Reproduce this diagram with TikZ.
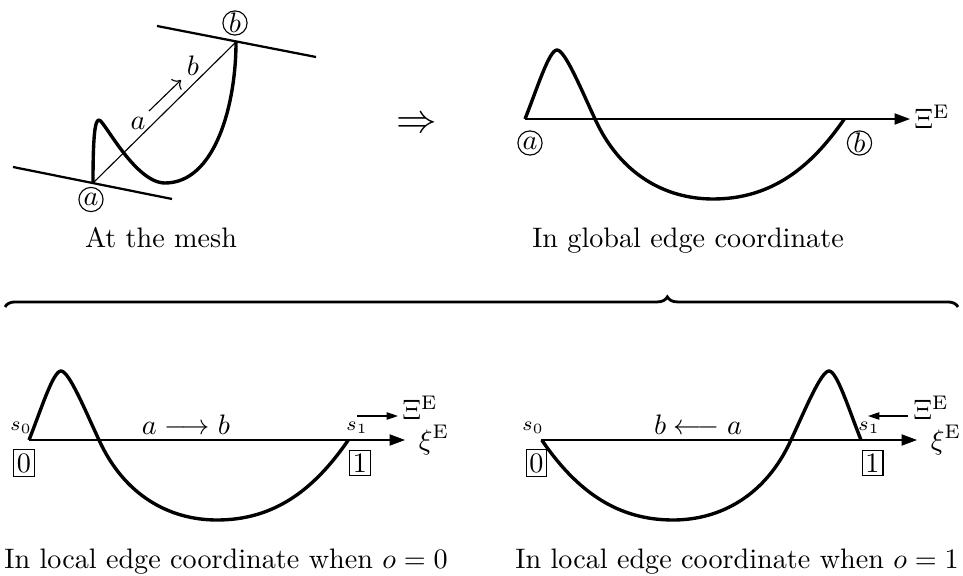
\documentclass[tikz,border=0pt]{standalone}
\usepackage{amsmath,amssymb}
\usepackage{tikz}
\usetikzlibrary{arrows.meta,positioning,decorations.pathreplacing}

\newcommand{\edgewave}{(0,0) .. controls (12,30) and (24,69) .. (32,69) .. controls (40,69) and (56,30) .. (70,0) .. controls (95,-55) and (140,-80) .. (188,-80) .. controls (245,-80) and (285,-50) .. (319.3,0)}

\begin{document}
\begin{tikzpicture}[x=0.355pt,y=0.355pt,
  wave/.style={line width=1.2pt,line join=round},
  tangline/.style={line width=0.8pt},
  endpt/.style={circle,draw,thin,inner sep=0pt,minimum size=8.6pt},
  endbox/.style={draw,thin,inner sep=1.2pt},
  axisarr/.style={-{Triangle[length=5.5pt,width=4pt]}},
  dirarr/.style={-{Triangle[length=4pt,width=2.6pt]}}]
\useasboundingbox (0,0) rectangle (963,575);

% at the mesh
\coordinate (ma) at (93,392);
\coordinate (mb) at (236,533);
\coordinate (mt1) at (13,408);
\coordinate (mt2) at (172,376);
\coordinate (mt3) at (157,549);
\coordinate (mt4) at (316,518);
\draw[tangline] (mt1) -- (mt2);
\draw[tangline] (mt3) -- (mt4);
\draw (ma) -- (mb);
\draw[wave] (ma) .. controls (93,440) and (95,455) .. (99,455) .. controls (104,455) and (135,392) .. (165,392) .. controls (215,392) and (236,470) .. (mb);
\node[endpt] (mla) at (91,375.5) {$a$};
\node[endpt] (mlb) at (235,552) {$b$};
\coordinate (md1) at (149,464);
\coordinate (md2) at (181,495);
\draw[->] (md1) -- (md2);
\node (mda) at (138,452) {$a$};
\node (mdb) at (193,509) {$b$};
\node[anchor=base] (mcap) at (161,327) {At the mesh};

\node (imply) at (417,450) {\Large$\Rightarrow$};

% global edge coordinate
\coordinate (ga) at (525,456);
\coordinate (gb) at (845,456);
\coordinate (gtip) at (910,456);
\draw[semithick] (ga) -- (gb);
\draw[axisarr] (gb) -- (gtip);
\draw[wave,shift={(525,456)}] \edgewave;
\node[endpt] (gla) at (530,432) {$a$};
\node[endpt] (glb) at (859.5,432) {$b$};
\node (gXi) at (932,458) {$\Xi^{\mathrm{E}}$};
\node[anchor=base] (gcap) at (688,327) {In global edge coordinate};

% brace
\coordinate (br1) at (5,268);
\coordinate (br2) at (958,268);
\draw[decorate,decoration={brace,amplitude=3.6pt,aspect=0.695},line width=1pt] (br1) -- (br2);

% local, o = 0
\coordinate (la) at (29,135);
\coordinate (lb) at (348,135);
\coordinate (ltip) at (405,135);
\draw[semithick] (la) -- (lb);
\draw[axisarr] (lb) -- (ltip);
\draw[wave,shift={(29,135)}] \edgewave;
\node[font=\scriptsize] (ls0) at (21,147) {$s_0$};
\node[font=\scriptsize] (ls1) at (357,147) {$s_1$};
\node[endbox] (l0) at (24,112) {0};
\node[endbox] (l1) at (360,112) {1};
\node (lab) at (186,150) {$a \longrightarrow b$};
\coordinate (ld1) at (357,159);
\coordinate (ld2) at (398,159);
\draw[dirarr] (ld1) -- (ld2);
\node (lXi) at (420,167) {$\Xi^{\mathrm{E}}$};
\node (lxi) at (434,135) {$\xi^{\mathrm{E}}$};
\node[anchor=base] (lcap) at (226,7) {In local edge coordinate when $o=0$};

% local, o = 1
\coordinate (ra) at (541,135);
\coordinate (rb) at (861,135);
\coordinate (rtip) at (917,135);
\draw[semithick] (ra) -- (rb);
\draw[axisarr] (rb) -- (rtip);
\draw[wave,shift={(861,135)},xscale=-1] \edgewave;
\node[font=\scriptsize] (rs0) at (533,147) {$s_0$};
\node[font=\scriptsize] (rs1) at (869,147) {$s_1$};
\node[endbox] (r0) at (536.5,112) {0};
\node[endbox] (r1) at (872.5,112) {1};
\node (rba) at (698,150) {$b \longleftarrow a$};
\coordinate (rd1) at (908,159);
\coordinate (rd2) at (868,159);
\draw[dirarr] (rd1) -- (rd2);
\node (rXi) at (931,167) {$\Xi^{\mathrm{E}}$};
\node (rxi) at (946,135) {$\xi^{\mathrm{E}}$};
\node[anchor=base] (rcap) at (737,7) {In local edge coordinate when $o=1$};

\end{tikzpicture}
\end{document}
